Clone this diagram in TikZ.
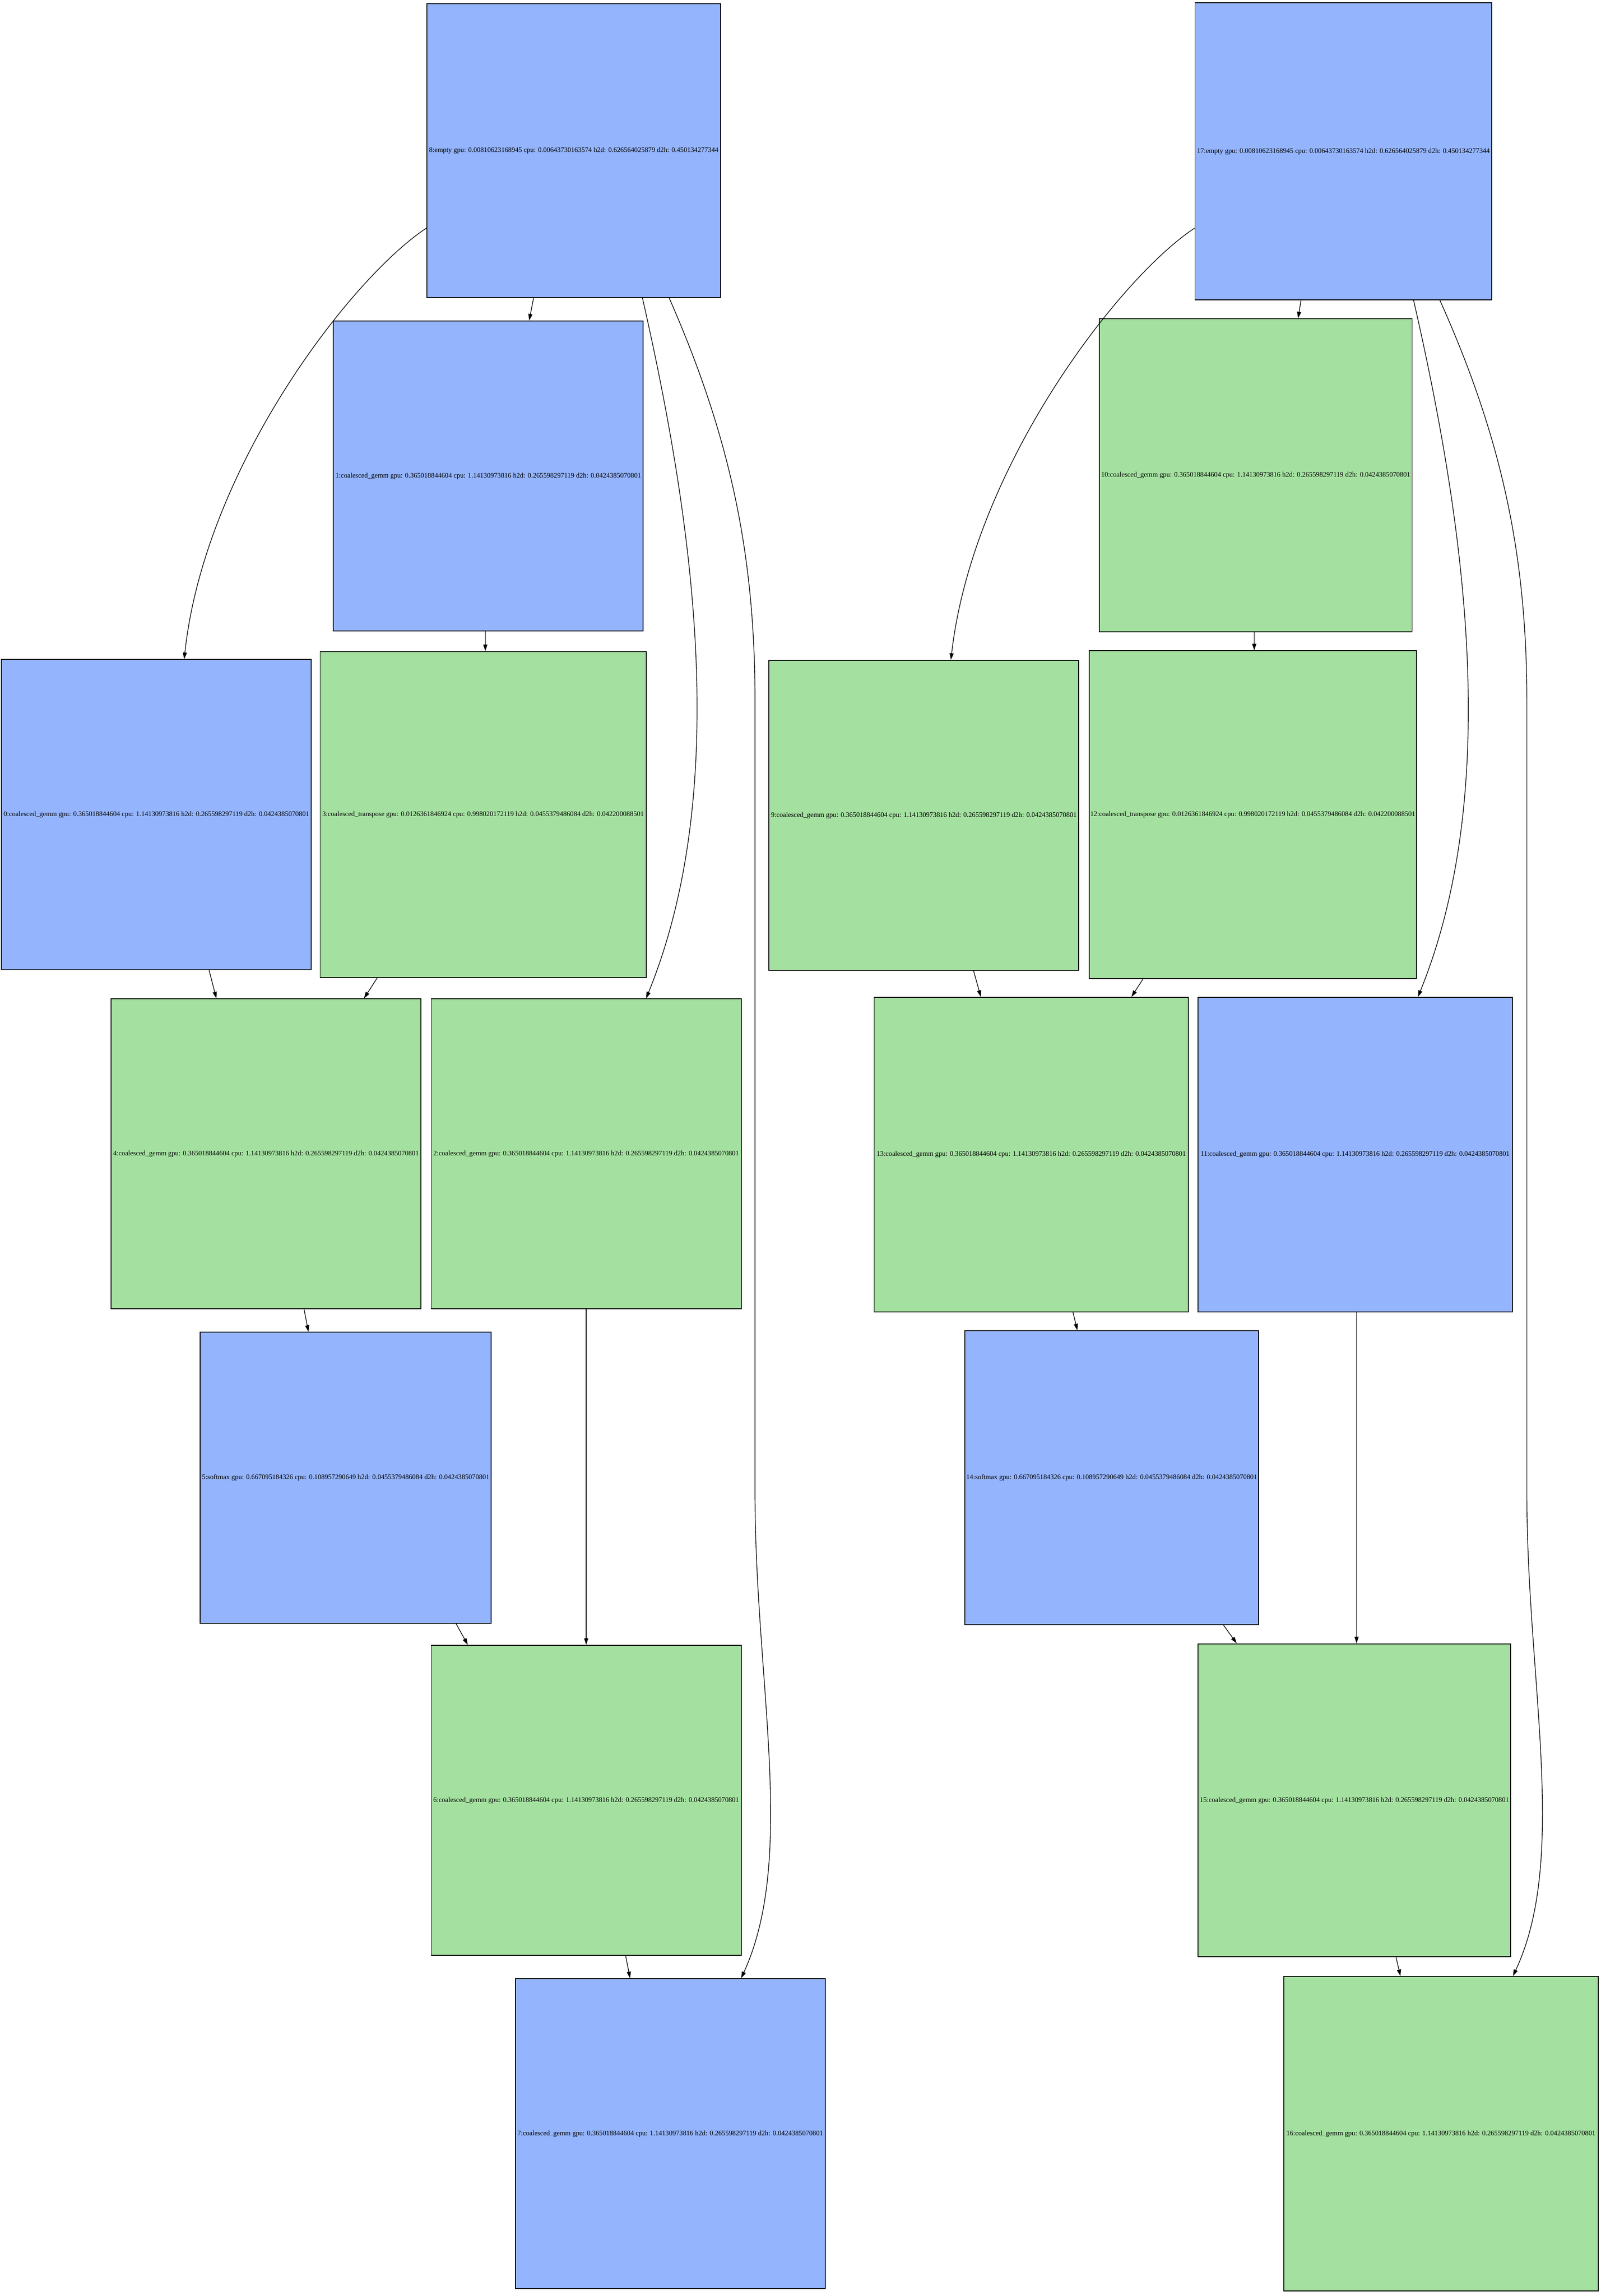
\documentclass[tikz,border=0pt]{standalone}
\usepackage{fontspec}
\setmainfont{Liberation Serif}
\usetikzlibrary{arrows.meta}
\definecolor{nblue}{RGB}{148,180,253}
\definecolor{ngreen}{RGB}{164,224,160}
\newcommand\gemmtxt[1]{#1:coalesced\_gemm gpu: 0.365018844604 cpu: 1.14130973816 h2d: 0.265598297119 d2h: 0.0424385070801}
\newcommand\transtxt[1]{#1:coalesced\_transpose gpu: 0.0126361846924 cpu: 0.998020172119 h2d: 0.0455379486084 d2h: 0.042200088501}
\newcommand\softtxt[1]{#1:softmax gpu: 0.667095184326 cpu: 0.108957290649 h2d: 0.0455379486084 d2h: 0.0424385070801}
\newcommand\emptytxt[1]{#1:empty gpu: 0.00810623168945 cpu: 0.00643730163574 h2d: 0.626564025879 d2h: 0.450134277344}
\tikzset{
  opbox/.style={draw=black, line width=0.6pt, rectangle, inner sep=0pt, align=center,
    font=\fontsize{4.75pt}{5.5pt}\selectfont},
  bluebox/.style={opbox, fill=nblue},
  greenbox/.style={opbox, fill=ngreen},
  sz/.style={minimum width=#1, minimum height=#1},
  edge/.style={line width=0.45pt, -{Triangle[length=4.5pt,width=2.8pt]}}
}
\begin{document}
\begin{tikzpicture}[x=1pt,y=-1pt]
\useasboundingbox (0,0) rectangle (1095,1570);
% left graph
\node[bluebox, sz=201pt] (n8) at (392.5,103) {\emptytxt{8}};
\node[bluebox, sz=212pt] (n1) at (334,325.5) {\gemmtxt{1}};
\node[bluebox, sz=212pt] (n0) at (107,557) {\gemmtxt{0}};
\node[greenbox, sz=223pt] (n3) at (330.5,557) {\transtxt{3}};
\node[greenbox, sz=212pt] (n4) at (182,789) {\gemmtxt{4}};
\node[greenbox, sz=212pt] (n2) at (401,789) {\gemmtxt{2}};
\node[bluebox, sz=199pt] (n5) at (236.5,1010.5) {\softtxt{5}};
\node[greenbox, sz=212pt] (n6) at (401,1231) {\gemmtxt{6}};
\node[bluebox, sz=212pt] (n7) at (458.5,1459) {\gemmtxt{7}};
% right graph
\node[bluebox, sz=203pt] (n17) at (919,103.5) {\emptytxt{17}};
\node[greenbox, sz=214pt] (n10) at (859,325) {\gemmtxt{10}};
\node[greenbox, sz=212pt] (n9) at (632,557.5) {\gemmtxt{9}};
\node[greenbox, sz=224pt] (n12) at (857,557) {\transtxt{12}};
\node[greenbox, sz=215pt] (n13) at (705.5,789.5) {\gemmtxt{13}};
\node[bluebox, sz=215pt] (n11) at (927,789.5) {\gemmtxt{11}};
\node[bluebox, sz=201pt] (n14) at (760.5,1010.5) {\softtxt{14}};
\node[greenbox, sz=214pt] (n15) at (926.5,1231) {\gemmtxt{15}};
\node[greenbox, sz=215pt] (n16) at (985.7,1459) {\gemmtxt{16}};
% left edges
\draw[edge] ([yshift=-53pt]n8.west) .. controls (240,190) and (140,320) .. ([xshift=19pt]n0.north);
\draw[edge] ([xshift=-27.5pt]n8.south) -- ([xshift=28pt]n1.north);
\draw[edge] ([xshift=47pt]n8.south) .. controls (475,360) and (500,540) .. ([xshift=41pt]n2.north);
\draw[edge] ([xshift=65.3pt]n8.south) .. controls (500,300) and (516.5,380) .. (516.5,480)
  -- (516.5,1021) .. controls (516.5,1150) and (545,1270) .. ([xshift=48.5pt]n7.north);
\draw[edge] ([xshift=-2pt]n1.south) -- ([xshift=1.5pt]n3.north);
\draw[edge] ([xshift=36pt]n0.south) -- ([xshift=-34pt]n4.north);
\draw[edge] ([xshift=-72.5pt]n3.south) -- ([xshift=67pt]n4.north);
\draw[edge] ([xshift=26pt]n4.south) -- ([xshift=-25.5pt]n5.north);
\draw[edge] ([xshift=75.5pt]n5.south) -- ([xshift=-81pt]n6.north);
\draw[edge] (n2.south) -- (n6.north);
\draw[edge] ([xshift=27pt]n6.south) -- ([xshift=-27.5pt]n7.north);
% right edges
\draw[edge] ([yshift=-52.5pt]n17.west) .. controls (765.5,190) and (665.5,320) .. ([xshift=18.5pt]n9.north);
\draw[edge] ([xshift=-29pt]n17.south) -- ([xshift=29pt]n10.north);
\draw[edge] ([xshift=48pt]n17.south) .. controls (1002.5,360) and (1027.5,540) .. ([xshift=43pt]n11.north);
\draw[edge] ([xshift=66pt]n17.south) .. controls (1027.5,300) and (1044.5,380) .. (1044.5,480)
  -- (1044.5,1021) .. controls (1044.5,1150) and (1073,1270) .. ([xshift=49.3pt]n16.north);
\draw[edge] ([xshift=-1pt]n10.south) -- ([xshift=1pt]n12.north);
\draw[edge] ([xshift=34pt]n9.south) -- ([xshift=-34.5pt]n13.north);
\draw[edge] ([xshift=-75pt]n12.south) -- ([xshift=68.5pt]n13.north);
\draw[edge] ([xshift=28.5pt]n13.south) -- ([xshift=-23.5pt]n14.north);
\draw[edge] ([xshift=76.5pt]n14.south) -- ([xshift=-80.5pt]n15.north);
\draw[edge] ([xshift=1pt]n11.south) -- ([xshift=1.5pt]n15.north);
\draw[edge] ([xshift=28.5pt]n15.south) -- ([xshift=-27.7pt]n16.north);
\end{tikzpicture}
\end{document}
